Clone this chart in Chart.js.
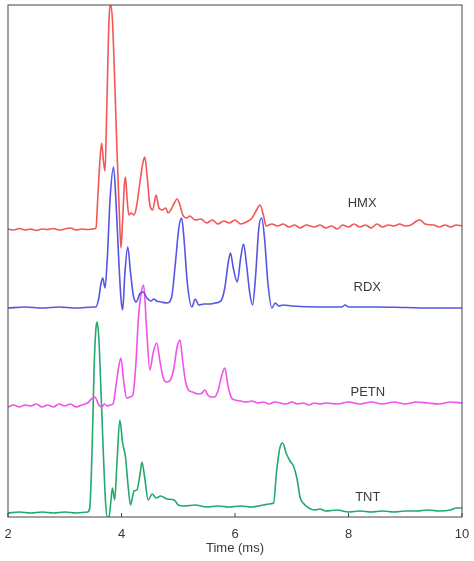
<!DOCTYPE html>
<html>
<head>
<meta charset="utf-8">
<script src="https://cdn.jsdelivr.net/npm/chart.js@4.4.1/dist/chart.umd.min.js"></script>
<style>
  html, body { margin: 0; padding: 0; background: #fff; }
  #wrap { width: 474px; height: 561px; }
</style>
</head>
<body>
<div id="wrap"><canvas id="chart"></canvas></div>
<script>
// Traces: time (ms) and signal above each trace's own baseline (arb. units)
const seriesNames = ['HMX', 'RDX', 'PETN', 'TNT'];
const offsets = [287, 209, 110, 4]; // vertical stacking of the traces

const hmxTime = [2.0, 2.1, 2.2, 2.3, 2.4, 2.5, 2.6, 2.7, 2.8, 2.9, 3.0, 3.1, 3.2, 3.3, 3.4, 3.5, 3.55,
  3.58, 3.62, 3.65, 3.68, 3.71, 3.74, 3.78, 3.81, 3.84, 3.88, 3.92, 3.96, 3.99, 4.02, 4.05, 4.07, 4.10,
  4.13, 4.17, 4.22, 4.27, 4.33, 4.38, 4.41, 4.45, 4.50, 4.55, 4.61, 4.66, 4.72, 4.78, 4.82, 4.87, 4.93,
  4.98, 5.03, 5.08, 5.15, 5.2, 5.3, 5.4, 5.5, 5.6, 5.7, 5.8, 5.9, 6.0, 6.1, 6.2, 6.3, 6.38, 6.44, 6.5,
  6.55, 6.65, 6.75, 6.85, 6.95, 7.05, 7.15, 7.25, 7.4, 7.5, 7.6, 7.7, 7.8, 7.9, 8.0, 8.1, 8.2, 8.3,
  8.4, 8.5, 8.6, 8.7, 8.8, 8.9, 9.0, 9.1, 9.2, 9.26, 9.35, 9.5, 9.6, 9.7, 9.8, 9.9, 10.0];
const hmxSignal = [1, 0, 1.5, 0, 1, -0.5, 1, 0.5, 1.5, 0, 1, 2, 0, 1, 0.5, 1, 2,
  30, 70, 87, 70, 59, 120, 210, 225, 210, 150, 80, 20, -18, 10, 45, 53, 30,
  15, 17, 15, 25, 50, 68, 73, 55, 25, 20, 35, 22, 20, 22, 17, 20, 27,
  31, 25, 15, 12, 14, 10, 11, 7, 10, 6, 9, 7, 10, 6, 8, 12, 20, 25, 15,
  4, 6, 4, 6, 3, 5, 2, 5, 3, 5, 2, 4, 1, 5, 3, 6, 3, 5,
  2, 6, 3, 5, 4, 6, 4, 5, 9, 10, 6, 5, 3, 5, 3, 5, 4];

const rdxTime = [2.0, 2.3, 2.6, 2.9, 3.2, 3.5, 3.55, 3.6, 3.64, 3.67, 3.71, 3.75, 3.8, 3.86, 3.9, 3.95,
  3.99, 4.02, 4.06, 4.11, 4.16, 4.21, 4.26, 4.32, 4.38, 4.45, 4.52, 4.57, 4.62, 4.7, 4.8, 4.88, 4.95,
  5.01, 5.06, 5.1, 5.16, 5.24, 5.3, 5.36, 5.45, 5.55, 5.65, 5.75, 5.82, 5.88, 5.92, 5.97, 6.04, 6.1,
  6.15, 6.2, 6.26, 6.31, 6.36, 6.42, 6.47, 6.52, 6.58, 6.65, 6.71, 6.77, 6.85, 7.0, 7.5, 7.88, 7.94,
  8.0, 8.5, 9.0, 9.5, 10.0];
const rdxSignal = [0, 1, 0, 1, 0, 1, 1, 10, 25, 30, 20, 50, 110, 141, 110, 50,
  10, -2, 35, 61, 35, 12, 6, 14, 16, 10, 7, 9, 7, 6, 5, 10, 45,
  80, 90, 70, 25, 1, 9, 3, 4, 4, 5, 7, 20, 45, 55, 40, 26, 50,
  64, 45, 15, 3, 30, 80, 90, 70, 25, 0, 5, 2, 3, 2, 1, 1, 3,
  1, 1, 0.5, 0, 0];

const petnTime = [2.0, 2.1, 2.2, 2.3, 2.4, 2.5, 2.6, 2.7, 2.8, 2.9, 3.0, 3.1, 3.2, 3.3, 3.4, 3.47,
  3.53, 3.6, 3.65, 3.7, 3.75, 3.8, 3.85, 3.9, 3.95, 3.99, 4.04, 4.09, 4.15, 4.2, 4.25, 4.3, 4.35,
  4.39, 4.44, 4.5, 4.56, 4.62, 4.68, 4.74, 4.8, 4.86, 4.92, 4.98, 5.03, 5.08, 5.13, 5.18, 5.25,
  5.35, 5.42, 5.47, 5.52, 5.58, 5.64, 5.7, 5.76, 5.82, 5.88, 5.94, 6.0, 6.1, 6.2, 6.3, 6.4, 6.5,
  6.6, 6.7, 6.8, 6.9, 7.0, 7.1, 7.2, 7.3, 7.4, 7.5, 7.6, 7.8, 8.0, 8.2, 8.4, 8.6, 8.8, 9.0, 9.2,
  9.4, 9.6, 9.8, 10.0];
const petnSignal = [0, 2, 0, 2, 1, 3, 0, 2, 0, 3, 1, 3, 0, 2, 4, 8,
  10, 2, 0, 3, 1, 2, 3, 20, 40, 49, 25, 9, 10, 12, 40, 90, 115,
  122, 80, 37, 55, 64, 45, 28, 25, 27, 38, 60, 67, 45, 25, 17, 15,
  13, 14, 17, 12, 10, 10, 16, 30, 39, 20, 9, 7, 6, 5, 6, 4, 5,
  3, 5, 4, 3, 5, 3, 4, 2, 4, 3, 4, 3, 5, 3, 5, 3, 5, 3, 5,
  4, 3, 5, 4];

const tntTime = [2.0, 2.2, 2.4, 2.6, 2.8, 3.0, 3.2, 3.4, 3.44, 3.48, 3.52, 3.55, 3.57, 3.6, 3.64,
  3.68, 3.72, 3.75, 3.78, 3.81, 3.84, 3.88, 3.92, 3.97, 4.02, 4.07, 4.12, 4.16, 4.22, 4.27, 4.33,
  4.36, 4.41, 4.47, 4.54, 4.61, 4.69, 4.8, 4.93, 5.0, 5.1, 5.3, 5.5, 5.7, 5.9, 6.1, 6.3, 6.5, 6.6,
  6.68, 6.73, 6.79, 6.84, 6.9, 6.97, 7.03, 7.09, 7.15, 7.2, 7.3, 7.4, 7.5, 7.6, 7.8, 8.0, 8.2, 8.4,
  8.6, 8.8, 9.0, 9.2, 9.4, 9.6, 9.8, 9.9, 10.0];
const tntSignal = [0, 1, 0, 1, 0, 1, 0, 1, 5, 60, 150, 185, 191, 175, 120,
  60, 10, -4, -4, 10, 25, 13, 50, 93, 70, 56, 25, 8, 22, 23, 40,
  51, 35, 13, 19, 15, 17, 14, 13, 8, 7, 8, 6, 7, 6, 7, 6, 8, 9,
  10, 40, 65, 70, 60, 52, 47, 35, 15, 10, 5, 3, 4, 2, 3, 1, 2, 1,
  2, 1, 2, 2, 3, 2, 3, 5, 5];

const xTicks = [2, 4, 6, 8, 10];

const colors = ['#f25656', '#5656e2', '#f052ec', '#22aa6c'];
const labelAnchors = [[8.24, 314], [8.33, 230], [8.34, 125], [8.34, 20]];

const times = [hmxTime, rdxTime, petnTime, tntTime];
const signals = [hmxSignal, rdxSignal, petnSignal, tntSignal];

const datasets = seriesNames.map((name, i) => ({
  label: name,
  data: times[i].map((t, j) => ({ x: t, y: signals[i][j] + offsets[i] })),
  borderColor: colors[i],
  borderWidth: 1.6,
  pointRadius: 0,
  cubicInterpolationMode: 'monotone',
  fill: false,
}));

// Frame, inward ticks and trace names
const framePlugin = {
  id: 'frame',
  afterDatasetsDraw(chart) {
    const { ctx, chartArea: a, scales } = chart;
    ctx.save();
    ctx.strokeStyle = '#444';
    ctx.lineWidth = 1;
    ctx.strokeRect(a.left, a.top, a.right - a.left, a.bottom - a.top);
    ctx.beginPath();
    scales.x.ticks.forEach(t => {
      const px = scales.x.getPixelForValue(t.value);
      ctx.moveTo(px, a.bottom);
      ctx.lineTo(px, a.bottom - 4);
    });
    ctx.stroke();
    ctx.fillStyle = '#3a3a3a';
    ctx.font = '13px "Liberation Sans", Arial, sans-serif';
    ctx.textAlign = 'center';
    ctx.textBaseline = 'middle';
    seriesNames.forEach((name, i) => {
      const [lx, ly] = labelAnchors[i];
      ctx.fillText(name, scales.x.getPixelForValue(lx), scales.y.getPixelForValue(ly));
    });
    ctx.restore();
  }
};

new Chart(document.getElementById('chart'), {
  type: 'line',
  data: { datasets },
  options: {
    responsive: true,
    maintainAspectRatio: false,
    animation: false,
    layout: { padding: { left: 8, right: 12, top: 5, bottom: 0 } },
    plugins: { legend: { display: false }, tooltip: { enabled: false } },
    scales: {
      x: {
        type: 'linear',
        min: 2,
        max: 10,
        afterBuildTicks: (axis) => { axis.ticks = xTicks.map(v => ({ value: v })); },
        afterFit: (axis) => { axis.height = 44; },
        grid: { display: false, drawTicks: false },
        border: { display: false },
        ticks: {
          padding: 4,
          color: '#3a3a3a',
          font: { family: '"Liberation Sans", Arial, sans-serif', size: 13, lineHeight: 2 },
          maxRotation: 0,
        },
        title: {
          display: true,
          text: 'Time (ms)',
          color: '#3a3a3a',
          font: { family: '"Liberation Sans", Arial, sans-serif', size: 13 },
          padding: { top: 0, bottom: 5 },
        },
      },
      y: {
        display: false,
        min: 0,
        max: 512,
      },
    },
  },
  plugins: [framePlugin],
});
</script>
</body>
</html>
